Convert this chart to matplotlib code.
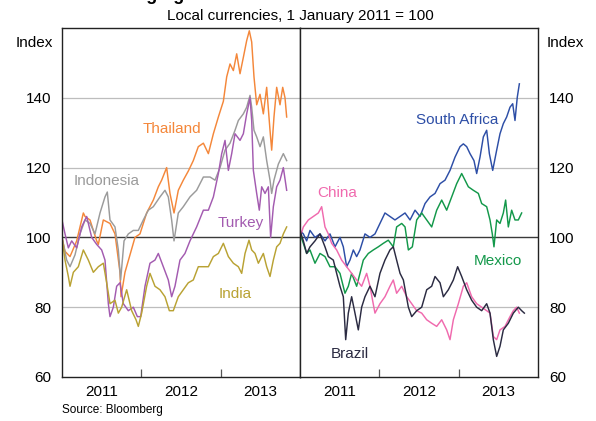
import matplotlib
matplotlib.use("Agg")
import matplotlib.pyplot as plt
import numpy as np

plt.rcParams['font.family'] = ['Liberation Sans', 'DejaVu Sans']

# ---- data (years since 1 Jan 2011, index values) ----
thai_t = [0, 0.038, 0.101, 0.185, 0.269, 0.290, 0.353, 0.437, 0.458, 0.521, 0.605, 0.668, 0.731, 0.744,
          0.794, 0.857, 0.920, 0.983, 1.067, 1.151, 1.214, 1.256, 1.319, 1.361, 1.412, 1.466, 1.529, 1.592,
          1.655, 1.718, 1.782, 1.845, 1.908, 1.971, 2.034, 2.076, 2.118, 2.160, 2.202, 2.244, 2.286, 2.328,
          2.361, 2.391, 2.420, 2.454, 2.496, 2.538, 2.580, 2.622, 2.643, 2.672, 2.706, 2.748, 2.782, 2.811, 2.832]
thai_v = [100, 96, 94.5, 99, 107, 106, 105, 99, 98, 105, 104, 101, 90, 83,
          90, 95, 100, 101, 107, 110.7, 114.5, 116.4, 120, 112.6, 107, 113.5, 116.4, 119,
          122, 126, 127, 124, 129.7, 134.5, 139, 146, 149.7, 147.8, 152.6, 146.9, 151.6, 156.4,
          159.2, 156, 146, 138, 141, 135.4, 143, 130.7, 125, 134.5, 143, 138, 143, 140, 134.5]

indo_t = [0, 0.059, 0.101, 0.164, 0.227, 0.290, 0.353, 0.416, 0.479, 0.542, 0.571, 0.605, 0.668, 0.710,
          0.739, 0.782, 0.836, 0.899, 0.962, 1.025, 1.088, 1.151, 1.235, 1.298, 1.340, 1.382, 1.412, 1.466,
          1.529, 1.613, 1.697, 1.782, 1.866, 1.929, 1.992, 2.055, 2.118, 2.181, 2.223, 2.286, 2.328, 2.370,
          2.391, 2.420, 2.454, 2.496, 2.538, 2.580, 2.622, 2.643, 2.672, 2.727, 2.790, 2.832]
indo_v = [100, 93.5, 91.6, 95, 101, 105, 104, 101, 107, 111.6, 113, 105, 103, 96.4,
          87.8, 99, 101, 102, 102, 105, 107.8, 108.8, 111.6, 113.5, 111.6, 105, 99, 107,
          108.8, 111.6, 113.5, 117.3, 117.3, 116.4, 120, 125, 127, 130.7, 133.5, 135.4, 137.3, 140.7,
          137.3, 130.7, 128.8, 126, 128.8, 122, 116.4, 112.6, 116.4, 121, 124, 122]

turk_t = [0, 0.038, 0.080, 0.122, 0.185, 0.248, 0.311, 0.374, 0.437, 0.500, 0.542, 0.584, 0.605, 0.647,
          0.689, 0.731, 0.773, 0.836, 0.899, 0.950, 0.992, 1.046, 1.109, 1.172, 1.214, 1.277, 1.340, 1.382,
          1.424, 1.487, 1.550, 1.613, 1.697, 1.782, 1.845, 1.908, 1.971, 2.013, 2.055, 2.097, 2.139, 2.181,
          2.244, 2.286, 2.328, 2.370, 2.391, 2.412, 2.454, 2.487, 2.517, 2.559, 2.601, 2.630, 2.664, 2.706,
          2.748, 2.790, 2.832]
turk_v = [105, 101, 97, 99, 97, 103, 106, 100, 98, 96.4, 93.5, 81, 77.3, 80,
          86, 87, 81, 79, 80, 77.3, 77.3, 86, 92.6, 93.5, 95.4, 91.6, 87.8, 83,
          86, 93.5, 95.4, 99, 103, 107.8, 107.8, 111.6, 118.3, 124, 127.8, 119.2, 124, 129.7,
          127.8, 129.7, 135.4, 140, 133.5, 119.2, 112.6, 107.8, 114.5, 112.6, 114.5, 100, 108.8, 114.5,
          116.4, 120, 113.5]

india_t = [0, 0.038, 0.080, 0.101, 0.143, 0.206, 0.269, 0.332, 0.395, 0.458, 0.521, 0.563, 0.605, 0.668,
           0.710, 0.752, 0.815, 0.878, 0.933, 0.962, 1.004, 1.067, 1.109, 1.172, 1.235, 1.298, 1.353, 1.403,
           1.466, 1.529, 1.592, 1.655, 1.718, 1.782, 1.845, 1.908, 1.971, 2.034, 2.097, 2.160, 2.223, 2.265,
           2.307, 2.357, 2.391, 2.433, 2.475, 2.538, 2.580, 2.622, 2.664, 2.706, 2.748, 2.790, 2.832]
india_v = [100, 93.5, 88.8, 86, 90, 91.6, 96.4, 93.5, 90, 91.6, 92.6, 87, 81, 82,
           78.3, 80, 85, 79, 76.4, 74.5, 78.3, 86, 89.7, 86, 85, 83, 79, 79,
           83, 85, 87, 87.8, 91.6, 91.6, 91.6, 94.5, 95.4, 98.3, 94.5, 92.6, 91.6, 89.7,
           95.4, 99.2, 96.4, 95.4, 92.6, 95.4, 91.6, 88.8, 93.5, 97.3, 98.3, 101, 103]

safr_t = [0, 0.042, 0.084, 0.126, 0.189, 0.252, 0.315, 0.378, 0.441, 0.504, 0.546, 0.588, 0.630, 0.672,
          0.714, 0.756, 0.819, 0.882, 0.945, 1.008, 1.071, 1.134, 1.197, 1.261, 1.324, 1.387, 1.450, 1.513,
          1.576, 1.639, 1.702, 1.765, 1.828, 1.891, 1.954, 2.017, 2.059, 2.101, 2.143, 2.193, 2.227, 2.269,
          2.311, 2.353, 2.387, 2.429, 2.479, 2.521, 2.563, 2.605, 2.647, 2.681, 2.710, 2.739, 2.765]
safr_v = [102, 101, 99, 102, 100, 101, 99, 101, 97.3, 100, 97.3, 91.6, 93.5, 96.4,
          94.5, 96.4, 101, 100, 101, 104, 107, 106, 105, 106, 107, 105, 107.8, 106,
          109.7, 111.6, 112.6, 115.4, 116.4, 119.2, 123, 126, 126.8, 126, 124, 122, 118.3, 123,
          128.8, 130.7, 124, 119.2, 125, 129.7, 132.6, 134.5, 137.3, 138.3, 133.5, 140.2, 144]

mex_t = [0, 0.042, 0.084, 0.126, 0.189, 0.252, 0.315, 0.378, 0.441, 0.504, 0.567, 0.609, 0.651, 0.714,
         0.756, 0.798, 0.861, 0.924, 0.987, 1.050, 1.113, 1.176, 1.218, 1.282, 1.324, 1.366, 1.416, 1.471,
         1.534, 1.597, 1.660, 1.723, 1.786, 1.849, 1.912, 1.975, 2.038, 2.080, 2.122, 2.185, 2.248, 2.290,
         2.353, 2.395, 2.424, 2.445, 2.479, 2.521, 2.563, 2.592, 2.626, 2.668, 2.710, 2.752, 2.794]
mex_v = [101, 98.3, 95.4, 96.4, 92.6, 95.4, 94.5, 91.6, 91.6, 89.7, 84, 86, 89.7, 86,
         89.7, 93.5, 95.4, 96.4, 97.3, 98.3, 99.2, 97.3, 103, 104, 103, 96.4, 97.3, 105,
         107, 105, 103, 107.8, 110.7, 107.8, 111.6, 115.4, 118.3, 116.4, 114.5, 113.5, 112.6, 109.7,
         108.8, 105, 101, 97.3, 105, 104, 107, 110.7, 103, 107.8, 105, 105, 107]

china_t = [0, 0.042, 0.105, 0.168, 0.231, 0.273, 0.315, 0.357, 0.399, 0.462, 0.525, 0.588, 0.651, 0.714,
           0.777, 0.840, 0.882, 0.945, 1.008, 1.071, 1.134, 1.176, 1.218, 1.282, 1.345, 1.408, 1.471, 1.534,
           1.597, 1.660, 1.723, 1.786, 1.849, 1.891, 1.933, 1.996, 2.059, 2.101, 2.164, 2.227, 2.290, 2.353,
           2.395, 2.437, 2.479, 2.521, 2.584, 2.647, 2.689, 2.731, 2.765]
china_v = [100, 103, 105, 106, 107, 108.8, 103, 101, 98.3, 96.4, 93.5, 91.6, 89.7, 87.8,
           86, 89.7, 86, 78.3, 81, 83, 86, 87.8, 84, 86, 83, 81, 79, 78.3,
           76.4, 75.4, 74.5, 76.4, 73.5, 70.7, 76.4, 81, 86, 87, 83, 81, 80, 79,
           78.3, 71.6, 70.7, 73.5, 74.5, 77.3, 79, 80, 78.3]

braz_t = [0, 0.042, 0.084, 0.126, 0.189, 0.252, 0.315, 0.357, 0.420, 0.462, 0.504, 0.546, 0.576, 0.609,
          0.651, 0.693, 0.735, 0.777, 0.819, 0.882, 0.945, 1.008, 1.071, 1.134, 1.176, 1.218, 1.261, 1.303,
          1.366, 1.408, 1.471, 1.534, 1.597, 1.660, 1.702, 1.765, 1.807, 1.870, 1.933, 1.987, 2.038, 2.101,
          2.164, 2.227, 2.290, 2.353, 2.395, 2.437, 2.479, 2.521, 2.563, 2.626, 2.689, 2.752, 2.794, 2.828]
braz_v = [102, 99, 95.4, 97.3, 99, 101, 97.3, 94.5, 93.5, 89.7, 86, 83, 70.7, 78.3,
          83, 78.3, 73.5, 80, 83, 86, 83, 89.7, 93.5, 96.4, 97.3, 93.5, 89.7, 87.8,
          80, 77.3, 79, 80, 85, 86, 88.8, 87, 83, 85, 87.8, 91.6, 88.8, 85,
          82, 80, 79, 81, 78.3, 70.7, 65.9, 68.8, 73.5, 75.4, 78.3, 80, 79, 78.3]

left_series = [("Thailand", thai_t, thai_v, "#F4873A"),
               ("Indonesia", indo_t, indo_v, "#9B9B9B"),
               ("Turkey", turk_t, turk_v, "#A35BB0"),
               ("India", india_t, india_v, "#B9A233")]
right_series = [("South Africa", safr_t, safr_v, "#2D4EA6"),
                ("Mexico", mex_t, mex_v, "#13984A"),
                ("China", china_t, china_v, "#F06AAE"),
                ("Brazil", braz_t, braz_v, "#2B2B42")]

left_labels = {"Thailand": (2012.385, 131.1), "Indonesia": (2011.567, 116.3),
               "Turkey": (2013.254, 104.0), "India": (2013.179, 83.7)}
right_labels = {"South Africa": (2012.977, 133.7), "China": (2011.466, 112.6),
                "Mexico": (2013.494, 93.1), "Brazil": (2011.63, 66.6)}

year_labels = ["2011", "2012", "2013"]
y_ticks = [60, 80, 100, 120, 140]

fig = plt.figure(figsize=(5.96, 4.21), dpi=100)
W, H = 596, 421
axL = fig.add_axes([62 / W, 1 - 377 / H, 238 / W, 349 / H])
axR = fig.add_axes([300 / W, 1 - 377 / H, 238 / W, 349 / H])

for ax, series, labels in [(axL, left_series, left_labels), (axR, right_series, right_labels)]:
    ax.set_xlim(2011, 2014)
    ax.set_ylim(60, 160)
    for g in [80, 120, 140]:
        ax.axhline(g, color="#BDBDBD", lw=0.9, zorder=0)
    ax.axhline(100, color="#3A3A3A", lw=1.0, zorder=1)
    for name, t, v, c in series:
        ax.plot(2011 + np.array(t), v, color=c, lw=1.05, zorder=2)
        lx, ly = labels[name]
        ax.text(lx, ly, name, color=c, fontsize=11, ha="center", va="center", zorder=3)
    ax.set_xticks([2012, 2013])
    ax.set_xticks([2011.5, 2012.5, 2013.5], minor=True)
    ax.set_xticklabels([])
    ax.set_xticklabels(year_labels, minor=True, fontsize=11)
    ax.tick_params(axis="x", which="major", direction="in", length=6, color="#555555", width=0.9)
    ax.tick_params(axis="x", which="minor", length=0, pad=6)
    ax.set_yticks(y_ticks)
    for s in ax.spines.values():
        s.set_color("#222222")
        s.set_linewidth(1.0)

axL.tick_params(axis="y", length=0, labelsize=11, pad=8)
axR.tick_params(axis="y", length=0, labelsize=11, pad=8, labelleft=False, labelright=True)
axR.yaxis.set_ticks_position("right")
axR.tick_params(axis="y", length=0)

fig.text(34 / W, 1 - 43 / H, "Index", fontsize=11, ha="center", va="center")
fig.text(565 / W, 1 - 43 / H, "Index", fontsize=11, ha="center", va="center")
fig.text(300 / W, 1 - 16 / H, "Local currencies, 1 January 2011 = 100", fontsize=11,
         ha="center", va="center")
fig.text(101 / W, 1.0, "Emerging Market Currencies", fontsize=13, fontweight="bold",
         ha="left", va="baseline")
fig.text(62 / W, 1 - 410 / H, "Source: Bloomberg", fontsize=8.5, ha="left", va="center")

fig.savefig("out.png", dpi=100)
